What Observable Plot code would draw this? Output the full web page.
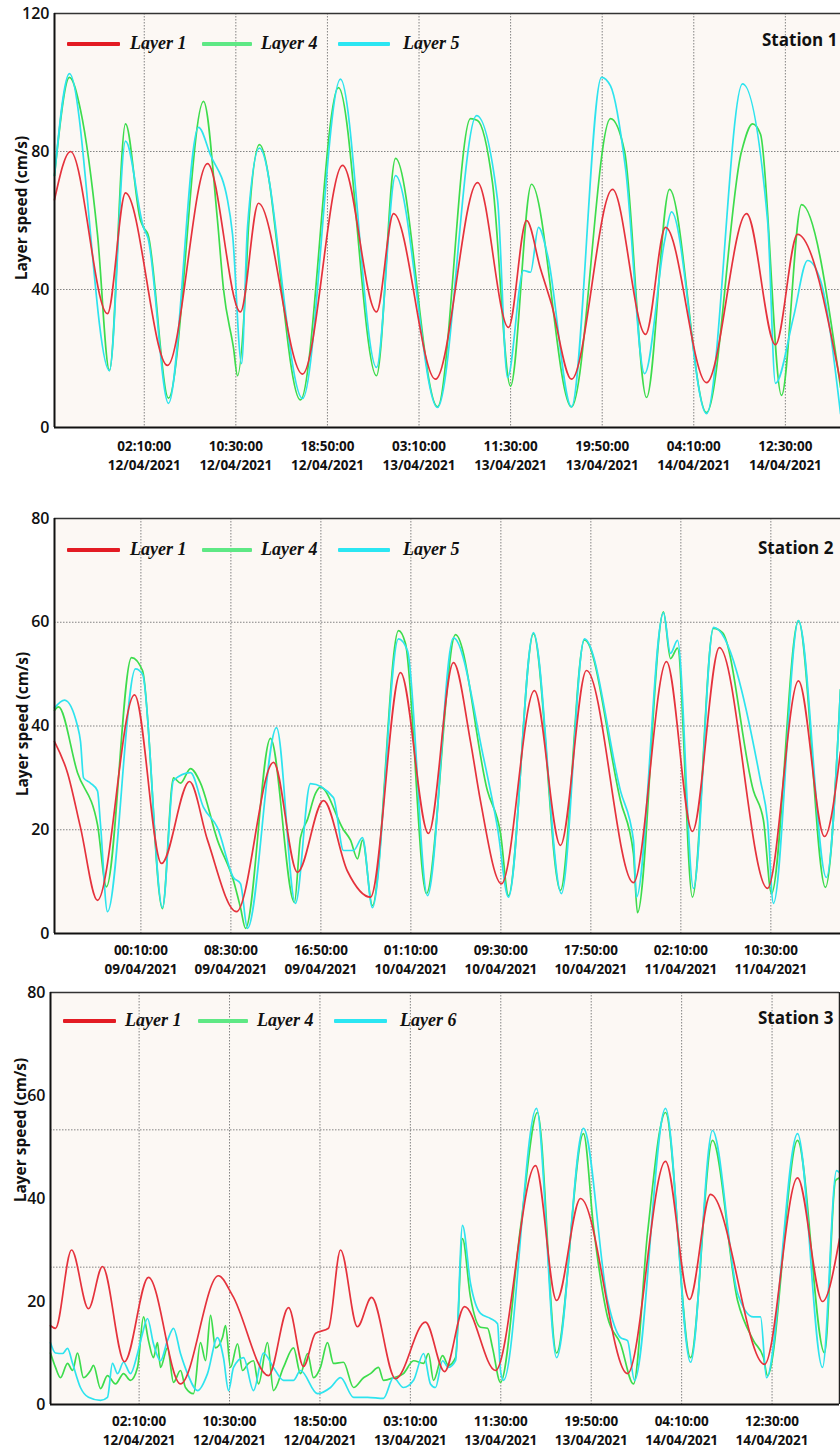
<!DOCTYPE html>
<html><head><meta charset="utf-8">
<script src="https://cdn.jsdelivr.net/npm/d3@7"></script>
<script src="https://cdn.jsdelivr.net/npm/@observablehq/plot@0.6"></script>
<style>
body{margin:0;background:#fff;}
#wrap{position:relative;width:840px;height:1448px;overflow:hidden;background:#fff;}
.panel{position:absolute;left:0;width:840px;}
.sw{position:absolute;height:4px;border-radius:1px;}
.lt{position:absolute;font-family:"Liberation Serif","Times New Roman",serif;font-style:italic;font-weight:bold;font-size:18px;color:#111;line-height:22px;height:22px;white-space:nowrap;}
.st{position:absolute;font-family:"Open Sans",sans-serif;font-weight:700;font-size:17px;color:#111;line-height:24px;height:24px;white-space:nowrap;}
.yl{position:absolute;font-family:"Open Sans",sans-serif;font-weight:700;font-size:15.5px;color:#111;white-space:nowrap;transform:translate(-50%,-50%) rotate(-90deg);line-height:20px;}
g[aria-label="x-axis tick label"] text{font-weight:700;font-size:13.5px;}
g[aria-label="y-axis tick label"] text{font-weight:600;font-size:16px;}
</style></head>
<body><div id="wrap"></div>
<script>
// ---------- tick labels / domains ----------
const s1Ticks = ["2021-04-12T02:10","2021-04-12T10:30","2021-04-12T18:50","2021-04-13T03:10","2021-04-13T11:30","2021-04-13T19:50","2021-04-14T04:10","2021-04-14T12:30"];
const s2Ticks = ["2021-04-09T00:10","2021-04-09T08:30","2021-04-09T16:50","2021-04-10T01:10","2021-04-10T09:30","2021-04-10T17:50","2021-04-11T02:10","2021-04-11T10:30"];
const s3Ticks = s1Ticks;
const s1Domain = ["2021-04-11T18:00","2021-04-14T17:31"];
const s2Domain = ["2021-04-08T16:10","2021-04-11T16:57"];
const s3Domain = ["2021-04-11T18:00","2021-04-14T18:43"];
const s1YTicks = [0,40,80,120];
const s2YTicks = [0,20,40,60,80];
const s3YTicks = [0,20,40,60,80];
const s1YGrid = [40,80];
const s2YGrid = [20,40,60];
const s3YGrid = [80/3,160/3];
const s1Names = ["Layer 1","Layer 4","Layer 5"];
const s2Names = ["Layer 1","Layer 4","Layer 5"];
const s3Names = ["Layer 1","Layer 4","Layer 6"];
const yLabel = "Layer speed (cm/s)";

// ---------- series: [hours since domain start, speed cm/s] ----------
const s1Layer1 = [[0,66],[1.46,80],[4.82,33],[6.46,68],[10.28,18],[13.92,76.5],[16.92,33.5],[18.56,65],[22.57,15.5],[26.21,76],[29.3,33.5],[30.85,62],[34.67,14],[38.49,71],[41.31,29],[42.95,60],[44.22,46],[45.2,36],[47.04,14],[50.77,69],[53.78,27],[55.6,58],[59.33,13],[62.97,62],[65.6,24],[67.61,56],[71.52,13]];
const s1Layer4 = [[0,73],[1.36,101.5],[2.37,92],[3.91,56],[5.0,16.5],[6.46,88],[7.83,60],[8.1,58],[8.5,56],[10.37,8.5],[13.56,94.5],[14.83,60],[15.38,40],[16.29,23],[16.65,15],[17.38,40],[17.65,58],[18.65,82],[22.38,8],[25.84,98.5],[29.3,15],[31.03,78],[34.85,6],[37.85,89.5],[38.49,89],[39.85,71],[41.49,12],[43.4,70.5],[47.04,6],[50.59,89.5],[51.87,80],[53.87,8.7],[55.96,69],[59.33,4.3],[62.51,80],[63.51,88],[64.24,85],[66.15,9.3],[67.97,64.6],[71.52,11.6]];
const s1Layer5 = [[0,73],[1.36,102.6],[5.0,16.5],[6.46,83],[8.1,58],[8.5,55],[10.37,7],[13.1,87],[14.19,79],[15.74,66],[16.2,56],[17.02,18.5],[17.56,58],[18.65,81],[22.57,8.4],[26.02,101],[29.3,17.4],[31.03,73],[34.85,5.8],[38.4,90.4],[40.31,66],[41.22,14.5],[42.68,45.5],[43.31,45],[44.04,58],[44.86,50],[47.04,6],[49.77,101.5],[50.59,99],[51.96,75],[53.69,15.6],[55.51,54],[56.14,62.5],[59.33,4],[62.6,99.6],[64.88,60],[65.6,12.8],[67.24,32],[68.52,48.4],[69.7,42.6],[71.52,4]];

const s2Layer1 = [[0,37],[1.2,31],[2.41,20.4],[3.98,6.4],[7.41,46],[9.91,13.5],[12.5,29.3],[14.17,18],[16.85,4.2],[20.28,33],[22.5,11.8],[24.91,25.6],[27.13,12],[29.26,7],[32.04,50.3],[34.63,19.3],[36.94,52.2],[38.52,37],[39.44,25.6],[41.39,9.6],[44.44,46.8],[46.85,17],[49.26,50.7],[53.61,9.8],[56.67,52.4],[59.07,19.7],[61.57,55.1],[66.02,8.7],[68.89,48.7],[71.3,18.7],[72.78,35]];
const s2Layer4 = [[0,43],[0.37,43.7],[2.13,31],[3.98,21],[4.81,9],[7.13,53.2],[8.15,50.7],[9.99,4.8],[11.02,30],[11.67,29],[12.59,31.8],[13.52,29],[15.09,18],[16.57,10.2],[17.22,5],[17.69,1],[20.0,37.6],[22.22,6],[22.78,18.5],[23.43,22],[24.17,27],[24.63,28.2],[26.76,20],[27.41,18],[28.06,14.4],[28.52,18],[29.44,5.4],[31.85,58.4],[32.5,55.9],[34.44,7.7],[37.13,57.6],[40.09,27.5],[41.3,19.3],[42.04,7.3],[44.35,57.8],[46.85,8.3],[49.07,56.6],[52.41,25.6],[53.61,15.4],[53.98,4],[56.39,62],[57.04,53],[57.69,55],[59.07,7],[61.02,58.8],[61.85,58],[64.72,27.5],[65.65,21.8],[66.39,7.7],[68.89,60.3],[71.39,8.9],[72.78,47]];
const s2Layer5 = [[0,43.5],[0.93,45],[2.13,40],[2.41,37],[2.69,30],[3.33,29],[3.98,27.5],[4.26,21],[4.91,4.2],[7.5,51],[8.15,50],[10.0,5],[11.02,29.5],[12.59,31],[13.8,24.3],[15.09,20.4],[16.57,10.8],[17.22,9.6],[17.87,1],[20.56,39.7],[22.31,5.8],[23.7,28.9],[25.83,26.2],[26.76,16],[27.69,16],[28.52,18.5],[29.44,5],[31.85,56.8],[32.69,54.5],[34.54,7.3],[36.94,57],[39.72,34],[41.02,20.4],[42.04,7],[44.35,58],[46.94,7.7],[49.07,56.8],[52.41,27.5],[53.61,18],[53.89,7],[56.39,61.8],[57.04,54],[57.69,56.5],[59.17,8.7],[61.02,59],[65.37,29.5],[66.02,21.8],[66.57,5.8],[68.89,60.3],[71.48,10.8],[72.78,47]];

const s3Layer1 = [[0,15.3],[0.46,14.8],[1.94,30],[3.5,18.6],[4.79,26.8],[6.82,8.3],[9.03,24.7],[11.98,4],[15.48,25],[16.77,21.2],[20.09,5.6],[21.94,18.8],[23.32,7.4],[24.42,13.8],[25.62,14.8],[26.73,30],[28.29,15.1],[29.59,20.8],[31.8,5],[34.56,16],[36.31,6.4],[38.16,19],[41.01,6.6],[44.7,46.4],[46.64,20.2],[48.85,40],[53.18,6],[56.68,47.2],[58.89,20.4],[60.83,40.8],[65.81,7.8],[68.85,44],[71.15,20],[72.72,32.2]];
const s3Layer4 = [[0,10],[0.46,7.2],[0.92,5.2],[1.57,8],[2.03,6.6],[2.49,10],[3.04,5.2],[3.69,6.6],[3.96,7.6],[4.61,3.1],[5.25,5.6],[5.99,4],[6.73,6],[7.37,4.7],[8.02,7.2],[8.57,17],[9.03,12.4],[9.49,9.1],[9.86,12],[10.14,7.2],[10.78,11],[11.34,4.3],[11.98,6.6],[12.44,3.3],[13.18,2.1],[13.82,12],[14.29,8.5],[14.75,17.3],[15.21,11],[15.85,13],[16.13,15.3],[16.59,7.2],[17.24,11.8],[17.7,6.6],[18.25,8],[18.71,8.5],[19.17,4],[20.0,12],[20.55,2.7],[21.47,7.2],[22.4,11],[23.04,6],[23.69,9.9],[24.24,5.2],[24.88,7.2],[25.53,12],[26.08,8],[27.0,8.2],[27.93,3.3],[28.85,5.2],[29.49,6],[30.23,7.2],[30.69,4.7],[31.61,5.2],[32.53,6],[33.46,8.5],[34.38,8],[34.84,9.9],[35.3,4.7],[36.13,9.5],[36.68,7.6],[37.33,9.1],[37.97,32.2],[38.71,20.8],[39.63,15],[40.28,14.8],[40.74,11],[41.47,4.3],[43.32,34.4],[44.88,56.7],[46.64,10],[49.12,52.6],[50.05,34.4],[51.34,17],[52.53,11.8],[53.73,4],[55.02,33.2],[56.68,56.7],[58.99,9.1],[61.01,51.3],[63.32,20.2],[64.79,12.4],[65.71,9.1],[66.08,5.6],[68.85,51.3],[71.34,10],[72.35,43.5],[72.72,44]];
const s3Layer6 = [[0,12],[0.46,10],[1.11,9.9],[1.57,10.9],[2.03,8],[2.76,3.3],[3.5,1.4],[4.61,0.8],[5.25,1.4],[5.71,8],[6.18,6],[6.73,8.2],[7.37,6],[8.02,9.9],[8.48,13.8],[8.94,16.7],[9.49,11.8],[10.14,8.5],[10.78,12.4],[11.34,14.8],[11.98,9.9],[12.63,6],[13.55,2.7],[14.47,6],[15.39,13],[15.94,9.1],[16.41,2.7],[16.87,7.2],[17.79,9.1],[18.71,2.7],[19.63,10],[20.55,7.2],[21.47,4.7],[22.4,4.7],[23.04,6.6],[24.61,2.1],[25.81,3.3],[26.73,5.2],[27.93,1.4],[29.22,1.4],[30.69,1.2],[31.61,5.2],[32.53,3.3],[33.46,4.7],[34.38,9.9],[35.02,4],[35.48,3.3],[36.13,8.5],[36.68,7.2],[37.33,8.5],[37.97,34.8],[38.71,23.5],[39.63,17.7],[40.55,16.7],[41.2,15.7],[41.47,6.6],[41.75,4.7],[44.79,57.5],[46.64,9.1],[49.12,53.6],[51.34,20.2],[52.53,13],[53.18,12.4],[53.82,4.7],[56.68,57.5],[58.99,8.2],[61.01,53.2],[63.32,21.6],[64.79,17],[65.44,17],[65.99,5.2],[68.85,52.6],[71.15,7.2],[72.44,45.4],[72.72,45]];

// ---------- styling ----------
const lineColors = ["#e5323c","#3ddc4c","#2ee3ee"];
const legendColors = ["#e31b23","#5ee884","#2be6f2"];
const bg = "#fcf8f4";

const parse = d3.utcParse("%Y-%m-%dT%H:%M");
const fmtT = d3.utcFormat("%H:%M:%S"), fmtD = d3.utcFormat("%d/%m/%Y");

function buildPanel(cfg) {
  const start = parse(cfg.domain[0]), end = parse(cfg.domain[1]);
  const toRows = vals => vals.map(([h, v]) => ({t: new Date(+start + h * 3600000), v}));
  const ticks = cfg.ticks.map(parse);
  const ymax = cfg.yTicks[cfg.yTicks.length - 1];
  const order = [1, 2, 0]; // green, cyan, then red on top
  const lines = order.map(i => Plot.lineY(toRows(cfg.series[i]), {x: "t", y: "v", stroke: lineColors[i], strokeWidth: 1.7, curve: "monotone-x"}));
  const marks = [
    Plot.frame({fill: bg, stroke: null}),
    Plot.gridX(ticks, {stroke: "#777", strokeOpacity: 0.9, strokeWidth: 1, strokeDasharray: "1.5,1.5"}),
    Plot.gridY(cfg.yGrid, {stroke: "#777", strokeOpacity: 0.9, strokeWidth: 1, strokeDasharray: "1.5,1.5"}),
    ...lines,
    Plot.ruleY([0], {stroke: "#111", strokeWidth: 2}),
    Plot.ruleY([ymax], {stroke: "#333", strokeWidth: 1.5}),
    Plot.ruleX([start], {stroke: "#111", strokeWidth: 2}),
    Plot.axisX(ticks, {tickSize: 0, tickPadding: cfg.xPad, tickFormat: d => fmtT(d) + "\n" + fmtD(d), fontSize: 13.5, fontWeight: 700, lineHeight: 1.4, label: null, fill: "#111"}),
    Plot.axisY(cfg.yTicks, {tickSize: 0, tickPadding: 5, fontSize: 16, fontWeight: 600, fill: "#111", label: null})
  ];
  if (cfg.rightBorder) marks.push(Plot.ruleX([end], {stroke: "#222", strokeWidth: 1.5}));
  return Plot.plot({
    width: 840, height: cfg.height,
    marginTop: cfg.mt, marginBottom: cfg.mb, marginLeft: cfg.ml, marginRight: cfg.mr,
    style: {fontFamily: "'Open Sans', sans-serif", background: "transparent", overflow: "visible"},
    x: {type: "utc", domain: [start, end]},
    y: {domain: [0, ymax]},
    marks
  });
}

function addLegend(div, p) {
  p.names.forEach((n, i) => {
    const [x1, x2, tx] = p.sw[i];
    const s = document.createElement("div");
    s.className = "sw";
    s.style.left = x1 + "px"; s.style.width = (x2 - x1) + "px"; s.style.top = (p.cy - 2) + "px";
    s.style.background = legendColors[i];
    div.appendChild(s);
    const t = document.createElement("div");
    t.className = "lt"; t.textContent = n;
    t.style.left = tx + "px"; t.style.top = (p.cy - 12) + "px";
    div.appendChild(t);
  });
  const st = document.createElement("div");
  st.className = "st"; st.textContent = p.station;
  st.style.left = p.sx + "px"; st.style.top = (p.sy - 12) + "px";
  div.appendChild(st);
  const yl = document.createElement("div");
  yl.className = "yl"; yl.textContent = yLabel;
  yl.style.left = p.lx + "px"; yl.style.top = p.ly + "px";
  div.appendChild(yl);
}

const panels = [
  {top: 0, height: 480, mt: 13, mb: 53, ml: 54, mr: 0, xPad: 10, domain: s1Domain, ticks: s1Ticks, yTicks: s1YTicks, yGrid: s1YGrid,
   series: [s1Layer1, s1Layer4, s1Layer5], names: s1Names, station: "Station 1", cy: 44, sw: [[67,120,130],[202,252,261],[338,390,403]], sx: 762, sy: 40, lx: 21, ly: 208},
  {top: 480, height: 498, mt: 38, mb: 45, ml: 54, mr: 0, xPad: 8, domain: s2Domain, ticks: s2Ticks, yTicks: s2YTicks, yGrid: s2YGrid,
   series: [s2Layer1, s2Layer4, s2Layer5], names: s2Names, station: "Station 2", cy: 70, sw: [[67,120,130],[202,252,261],[338,390,403]], sx: 758, sy: 68, lx: 22, ly: 244},
  {top: 978, height: 470, mt: 14, mb: 44, ml: 50, mr: 1, xPad: 8, rightBorder: true, domain: s3Domain, ticks: s3Ticks, yTicks: s3YTicks, yGrid: s3YGrid,
   series: [s3Layer1, s3Layer4, s3Layer6], names: s3Names, station: "Station 3", cy: 43, sw: [[63,116,125],[198,248,257],[334,387,400]], sx: 758, sy: 40, lx: 20, ly: 152}
];

const wrap = document.getElementById("wrap");
panels.forEach(p => {
  const div = document.createElement("div");
  div.className = "panel";
  div.style.top = p.top + "px";
  div.style.height = p.height + "px";
  div.appendChild(buildPanel(p));
  addLegend(div, p);
  wrap.appendChild(div);
});
</script>
</body></html>
